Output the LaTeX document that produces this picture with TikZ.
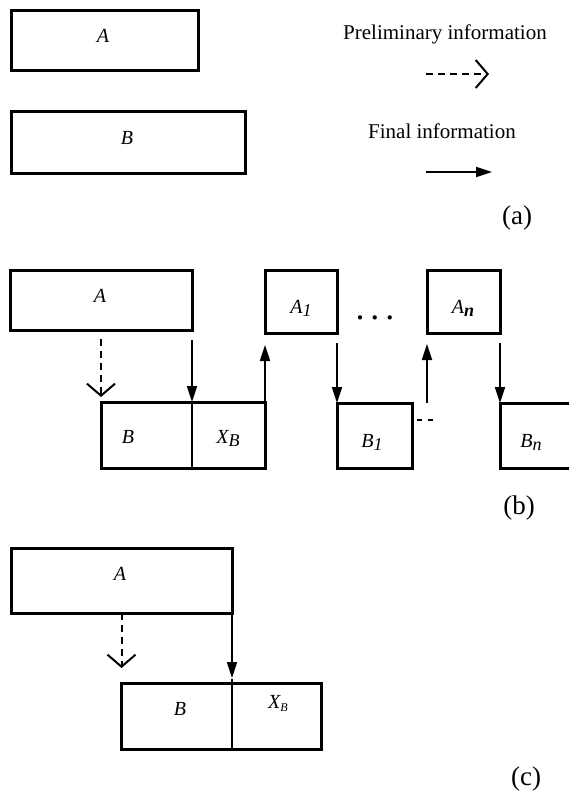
\documentclass[tikz,border=0pt]{standalone}
\usepackage{fontspec}
\setmainfont{Liberation Serif}
\usetikzlibrary{arrows.meta}
% subscripted italic labels
\newcommand{\lowsub}[2]{\textit{#1}\raisebox{-3pt}{\fontsize{18}{20}\selectfont\textit{#2}}}
\newcommand{\tinysub}[2]{\textit{#1}\raisebox{-3pt}{\fontsize{12}{14}\selectfont\textit{#2}}}
\tikzset{
  box/.style={draw, line width=3pt, inner sep=0pt, outer sep=0pt, anchor=north west},
  lbl/.style={font=\fontsize{20}{24}\selectfont\itshape, inner sep=0pt},
  txt/.style={font=\fontsize{21}{25}\selectfont, inner sep=0pt},
  tag/.style={font=\fontsize{27}{31}\selectfont, inner sep=0pt},
  final/.style={line width=2pt, -{Triangle[length=16pt,width=10pt]}},
  prelim/.style={line width=2pt, dash pattern=on 7pt off 5pt,
                 -{Straight Barb[length=12pt,width=28pt,line width=2pt]}},
  divider/.style={line width=2.6pt},
}
\begin{document}
\begin{tikzpicture}[x=1pt,y=-1pt]
\clip (0,0) rectangle (569,797);
\fill[white] (0,0) rectangle (569,797);

% ---------- (a) legend ----------
\node[box, minimum width=187pt, minimum height=60pt] (aA) at (11,11) {};
\node[box, minimum width=234pt, minimum height=61pt] (aB) at (11,112) {};
\node[lbl] (aAl) at (103,36) {A};
\node[lbl] (aBl) at (127,138) {B};
\node[txt] (prelimtxt) at (445,34) {Preliminary information};
\node[txt] (finaltxt) at (442,131) {Final information};
\coordinate (pS) at (426,74);
\coordinate (pE) at (489,74);
\coordinate (fS) at (426,172);
\coordinate (fE) at (492,172);
\draw[prelim] (pS) -- (pE);
\draw[final] (fS) -- (fE);
\node[tag] (taga) at (517,218) {(a)};

% ---------- (b) chain ----------
\node[box, minimum width=182pt, minimum height=60pt] (bA) at (10,270) {};
\node[box, minimum width=72pt, minimum height=63pt] (bA1) at (265,270) {};
\node[box, minimum width=73pt, minimum height=63pt] (bAn) at (427,270) {};
\node[box, minimum width=164pt, minimum height=66pt] (bB) at (101,402) {};
\node[box, minimum width=75pt, minimum height=65pt] (bB1) at (337,403) {};
\node[box, minimum width=90pt, minimum height=65pt] (bBn) at (500,403) {};

\node[lbl] (bAl) at (100,296) {A};
\node[lbl] (bA1l) at (301,308) {\lowsub{A}{1}};
\node[lbl] (bAnl) at (463,308) {\textit{A}\raisebox{-3pt}{\fontsize{18}{20}\selectfont\textbf{\textit{n}}}};
\node[lbl] (bBl) at (128,437) {B};
\node[lbl] (bXBl) at (228,438) {\lowsub{X}{B}};
\node[lbl] (bB1l) at (372,442) {\lowsub{B}{1}};
\node[lbl] (bBnl) at (531,442) {\lowsub{B}{n}};
\node[font=\fontsize{36}{38}\selectfont, inner sep=0pt] (dots) at (375,318) {.\hspace{6pt}.\hspace{6pt}.};
\node[tag] (tagb) at (519,508) {(b)};

% split of B into B | X_B
\draw[divider] (bA.south east |- bB.north) -- ([yshift=-2pt]bA.south east |- bB.south);
% A -> B (preliminary and final)
\draw[prelim, shorten <=9pt, shorten >=5pt] (bA.south) -- (bA.south |- bB.north);
\draw[final, shorten <=10pt] (bA.south east) -- (bA.south east |- bB.north);
% X_B -> A1, A1 -> B1, B1 -> An, An -> Bn
\draw[final, shorten >=12pt] (bB.north east) -- (bA1.south west);
\draw[final, shorten <=10pt] (bA1.south east) -- (bB1.north west);
\draw[final, shorten >=11pt] (bAn.south west |- bB1.north) -- (bAn.south west);
\draw[final, shorten <=10pt] (bAn.south east) -- (bBn.north west);
\draw[line width=1.5pt, dash pattern=on 5pt off 6pt]
  ([xshift=5pt,yshift=-17pt]bB1.north east) -- ([xshift=22pt,yshift=-17pt]bB1.north east);

% ---------- (c) single step ----------
\node[box, minimum width=221pt, minimum height=65pt] (cA) at (11,548) {};
\node[box, minimum width=200pt, minimum height=66pt] (cB) at (121,683) {};
\node[lbl] (cAl) at (120,574) {A};
\node[lbl] (cBl) at (180,709) {B};
\node[lbl] (cXBl) at (278,703) {\tinysub{X}{B}};
\node[tag] (tagc) at (526,779) {(c)};

\draw[line width=1.5pt] ([yshift=4pt]cA.south east |- cB.north) -- ([yshift=-1pt]cA.south east |- cB.south);
\draw[prelim, shorten >=15pt] (cA.south) -- (cA.south |- cB.north);
\draw[final, shorten >=5pt] (cA.south east) -- (cA.south east |- cB.north);
\end{tikzpicture}
\end{document}
